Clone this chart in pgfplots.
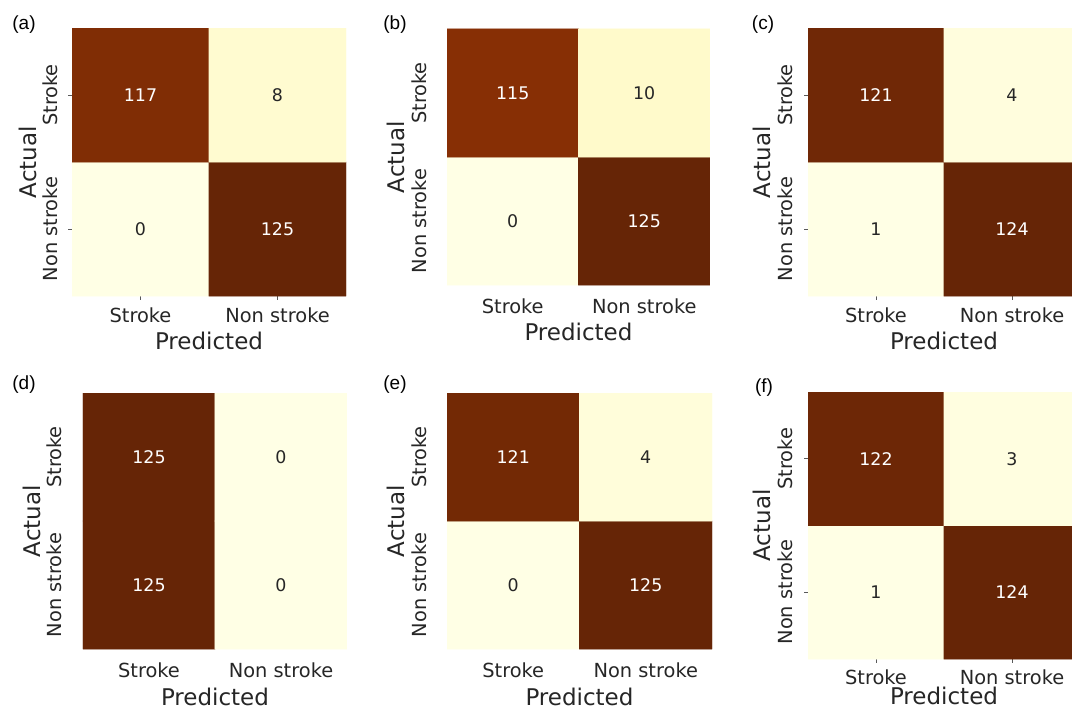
\documentclass[border=0pt]{standalone}
\usepackage{fontspec}
\setmainfont{DejaVu Sans}
\newfontfamily\arialf{Liberation Sans}
\usepackage{pgfplots}
\pgfplotsset{compat=1.18}
\definecolor{tk}{HTML}{262626}
\pgfplotsset{
  ylorbr/.style={colormap={ylorbr}{rgb255=(255,255,229) rgb255=(255,247,188) rgb255=(254,227,145) rgb255=(254,196,79) rgb255=(254,153,41) rgb255=(236,112,20) rgb255=(204,76,2) rgb255=(153,52,4) rgb255=(102,37,6)}},
  cm/.style={ylorbr, scale only axis, anchor=north west,
    xmin=-0.5,xmax=1.5,ymin=-0.5,ymax=1.5,
    xtick={0,1}, ytick={0,1},
    xticklabels={Stroke,Non stroke}, yticklabels={Non stroke,Stroke},
    axis line style={draw=none},
    xtick pos=left, ytick pos=left,
    tick align=outside, major tick length=1.8pt,
    tick style={color=black!65, line width=0.5pt},
    ticklabel style={font=\fontsize{9.7}{11}\selectfont, text=tk},
    label style={font=\fontsize{11.5}{13}\selectfont, text=tk},
    xlabel={Predicted}, ylabel={Actual},
    point meta min=0, point meta max=125,
  },
  noticks/.style={tick style={draw=none}},
  mp/.style={matrix plot*, mesh/cols=2, point meta=explicit},
  dk/.style={only marks, mark=none, point meta=explicit symbolic, nodes near coords, nodes near coords align={center},
    nodes near coords style={font=\fontsize{8.7}{10}\selectfont, text=white, anchor=center}},
  lt/.style={only marks, mark=none, point meta=explicit symbolic, nodes near coords, nodes near coords align={center},
    nodes near coords style={font=\fontsize{8.7}{10}\selectfont, text=tk, anchor=center}},
}
\begin{document}
\begin{tikzpicture}
\useasboundingbox (0,0) rectangle (536pt,354.5pt);
% (a)
\begin{axis}[cm, at={(36pt,340.5pt)}, width=137pt, height=134pt,
  xticklabel style={anchor=center, yshift=-8pt},
  yticklabel style={xshift=-9pt, rotate=90, anchor=center},
  xlabel style={at={(axis description cs:0.5,-0.168)}, anchor=center},
  ylabel style={at={(axis description cs:-0.1606,0.5)}, anchor=center}]
\addplot[mp] table[meta=c] {
x y c
0 0 0
1 0 125
0 1 117
1 1 8
};
\addplot[dk] table[meta=l] {
x y l
1 0 125
0 1 117
};
\addplot[lt] table[meta=l] {
x y l
0 0 0
1 1 8
};
\end{axis}
% (b)
\begin{axis}[cm, noticks, at={(223.5pt,340pt)}, width=131.5pt, height=128pt,
  xticklabel style={anchor=center, yshift=-9pt},
  yticklabel style={xshift=-12pt, rotate=90, anchor=center},
  xlabel style={at={(axis description cs:0.5,-0.1836)}, anchor=center},
  ylabel style={at={(axis description cs:-0.1939,0.5)}, anchor=center}]
\addplot[mp] table[meta=c] {
x y c
0 0 0
1 0 125
0 1 115
1 1 10
};
\addplot[dk] table[meta=l] {
x y l
1 0 125
0 1 115
};
\addplot[lt] table[meta=l] {
x y l
0 0 0
1 1 10
};
\end{axis}
% (c)
\begin{axis}[cm, at={(404pt,340.5pt)}, width=136pt, height=134pt,
  point meta min=1, point meta max=124,
  xticklabel style={anchor=center, yshift=-8pt},
  yticklabel style={xshift=-9.5pt, rotate=90, anchor=center},
  xlabel style={at={(axis description cs:0.5,-0.168)}, anchor=center},
  ylabel style={at={(axis description cs:-0.169,0.5)}, anchor=center}]
\addplot[mp] table[meta=c] {
x y c
0 0 1
1 0 124
0 1 121
1 1 4
};
\addplot[dk] table[meta=l] {
x y l
1 0 124
0 1 121
};
\addplot[lt] table[meta=l] {
x y l
0 0 1
1 1 4
};
\end{axis}
% (d)
\begin{axis}[cm, noticks, at={(41.5pt,158pt)}, width=132pt, height=128pt,
  xticklabel style={anchor=center, yshift=-9pt},
  yticklabel style={xshift=-12.5pt, rotate=90, anchor=center},
  xlabel style={at={(axis description cs:0.5,-0.1875)}, anchor=center},
  ylabel style={at={(axis description cs:-0.193,0.5)}, anchor=center}]
\addplot[mp] table[meta=c] {
x y c
0 0 125
1 0 0
0 1 125
1 1 0
};
\addplot[dk] table[meta=l] {
x y l
0 0 125
0 1 125
};
\addplot[lt] table[meta=l] {
x y l
1 0 0
1 1 0
};
\end{axis}
% (e)
\begin{axis}[cm, noticks, at={(223.5pt,158pt)}, width=132.5pt, height=128pt,
  xticklabel style={anchor=center, yshift=-9pt},
  yticklabel style={xshift=-12pt, rotate=90, anchor=center},
  xlabel style={at={(axis description cs:0.5,-0.1875)}, anchor=center},
  ylabel style={at={(axis description cs:-0.1925,0.5)}, anchor=center}]
\addplot[mp] table[meta=c] {
x y c
0 0 0
1 0 125
0 1 121
1 1 4
};
\addplot[dk] table[meta=l] {
x y l
1 0 125
0 1 121
};
\addplot[lt] table[meta=l] {
x y l
0 0 0
1 1 4
};
\end{axis}
% (f)
\begin{axis}[cm, at={(404pt,158.5pt)}, width=136pt, height=133.5pt,
  point meta min=1, point meta max=124,
  xticklabel style={anchor=center, yshift=-7.5pt},
  yticklabel style={xshift=-9.5pt, rotate=90, anchor=center},
  xlabel style={at={(axis description cs:0.5,-0.138)}, anchor=center},
  ylabel style={at={(axis description cs:-0.169,0.5)}, anchor=center}]
\addplot[mp] table[meta=c] {
x y c
0 0 1
1 0 124
0 1 122
1 1 3
};
\addplot[dk] table[meta=l] {
x y l
1 0 124
0 1 122
};
\addplot[lt] table[meta=l] {
x y l
0 0 1
1 1 3
};
\end{axis}
\node[font=\arialf\fontsize{9.5}{10}\selectfont] at (12pt,342pt) {(a)};
\node[font=\arialf\fontsize{9.5}{10}\selectfont] at (197.5pt,342pt) {(b)};
\node[font=\arialf\fontsize{9.5}{10}\selectfont] at (381.5pt,342pt) {(c)};
\node[font=\arialf\fontsize{9.5}{10}\selectfont] at (12pt,162pt) {(d)};
\node[font=\arialf\fontsize{9.5}{10}\selectfont] at (197.5pt,162pt) {(e)};
\node[font=\arialf\fontsize{9.5}{10}\selectfont] at (382pt,160.5pt) {(f)};
\end{tikzpicture}
\end{document}
